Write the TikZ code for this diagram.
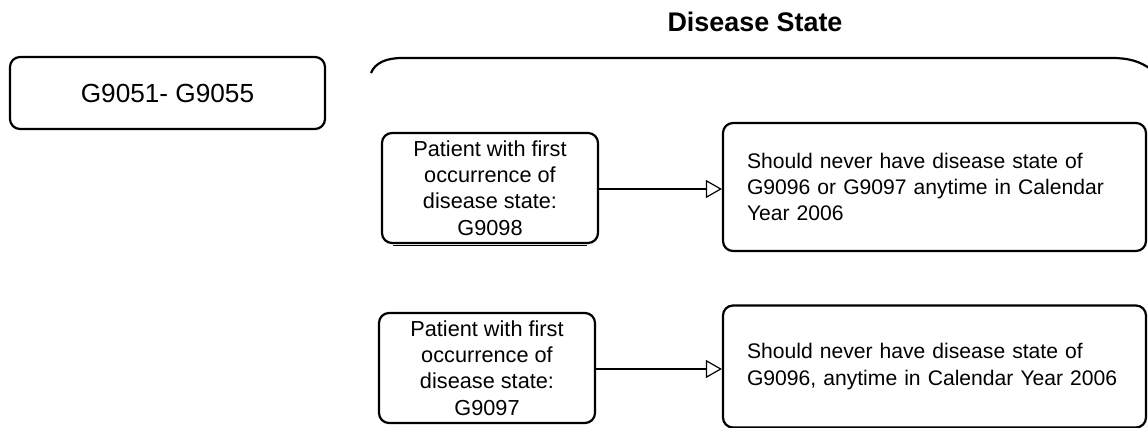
\documentclass[tikz,border=0pt]{standalone}
\usepackage{fontspec}
\setmainfont{Liberation Sans}
\usetikzlibrary{arrows.meta}
\tikzset{
  box/.style={draw=black, line width=2.2bp, rounded corners=10bp, inner sep=0pt, fill=white},
  bodytext/.style={font=\fontsize{21.2}{26.5}\selectfont},
  link/.style={draw=black, line width=2.2bp, -{Triangle[open, length=16bp, width=18bp, line width=1.2bp]}},
}
\begin{document}
\begin{tikzpicture}[x=1bp, y=-1bp]
\useasboundingbox (0,0) rectangle (1148,427);
\clip (0,0) rectangle (1148,427);
% title
\node[font=\fontsize{27}{30}\selectfont\bfseries, anchor=base] (title) at (755,31) {Disease State};
% container top
\draw[line width=2.2bp] (371,73) .. controls (375,63) and (386,58) .. (402,58) -- (1112,58) .. controls (1128,58) and (1140,61) .. (1152,70);
% code box
\node[box, minimum width=315bp, minimum height=72bp, font=\fontsize{26.3}{30}\selectfont] (codes) at (167.5,93) {G9051- G9055};
% left boxes
\node[box, bodytext, font=\fontsize{21.8}{26.5}\selectfont, minimum width=216bp, minimum height=110bp, align=center] (p1) at (490,188) {Patient with first\\occurrence of\\disease state:\\G9098};
\draw[line width=0.8bp] ([xshift=12bp, yshift=-1.2bp]p1.south west) -- ([xshift=-12bp, yshift=-1.2bp]p1.south east);
\node[box, bodytext, font=\fontsize{21.8}{26.5}\selectfont, minimum width=216bp, minimum height=110bp, align=center] (p2) at (487,368) {Patient with first\\occurrence of\\disease state:\\G9097};
% right boxes
\node[box, bodytext, minimum width=423bp, minimum height=128bp, text width=375bp, inner xsep=24bp, align=left] (r1) at (934.5,187) {Should never have disease state of\\G9096 or G9097 anytime in Calendar\\Year 2006};
\node[box, bodytext, minimum width=423bp, minimum height=122bp, text width=375bp, inner xsep=24bp, align=left] (r2) at (934.5,366.5) {Should never have disease state of\\G9096, anytime in Calendar Year 2006};
% connectors
\draw[link] (p1.east |- 0,189) -- (r1.west |- 0,189);
\draw[link] (p2.east |- 0,369) -- (r2.west |- 0,369);
\end{tikzpicture}
\end{document}
